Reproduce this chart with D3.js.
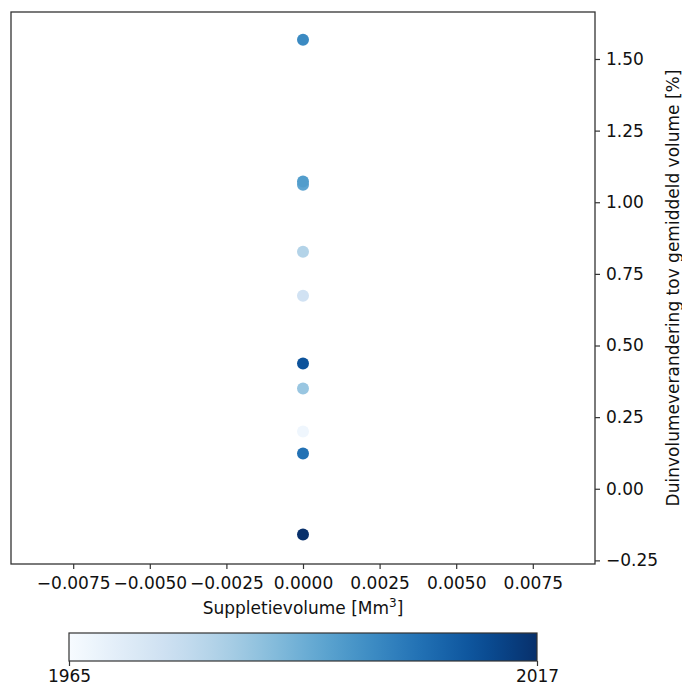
<!DOCTYPE html>
<html>
<head>
<meta charset="utf-8">
<script src="https://cdn.jsdelivr.net/npm/d3@7"></script>
<style>
  body { margin: 0; background: #fff; }
  text { font-family: "DejaVu Sans", sans-serif; fill: #111; }
</style>
</head>
<body>
<div id="chart"></div>
<script>
// data
var years   = [1967, 1975, 1981, 1985, 1993, 1995, 1999, 2004, 2010, 2017];
var supplet = [0, 0, 0, 0, 0, 0, 0, 0, 0, 0];
var duinVol = [0.200, 0.674, 0.827, 0.350, 1.061, 1.072, 1.567, 0.123, 0.437, -0.160];
var yTicks  = [-0.25, 0.00, 0.25, 0.50, 0.75, 1.00, 1.25, 1.50];
var xTicks  = [-0.0075, -0.0050, -0.0025, 0.0000, 0.0025, 0.0050, 0.0075];
var yearRange = [1965, 2017];

var W = 682, H = 688;
var box = {left: 11, right: 595, top: 12, bottom: 564};

var svg = d3.select("#chart")
    .append("svg")
    .attr("width", W)
    .attr("height", H);

var x = d3.scaleLinear()
    .domain([-0.00953, 0.00953])
    .range([box.left, box.right]);

var y = d3.scaleLinear()
    .domain([-0.2626, 1.664])
    .range([box.bottom, box.top]);

var color = d3.scaleSequential(d3.interpolateBlues)
    .domain(yearRange);

// X axis
var xAxis = svg.append("g")
    .attr("transform", "translate(0," + box.bottom + ")")
    .call(d3.axisBottom(x).tickValues(xTicks).tickSize(5).tickPadding(8)
        .tickFormat(d3.format(".4f")));
xAxis.select(".domain").remove();
xAxis.selectAll("text").style("font-size", "17px");
xAxis.selectAll("line").attr("stroke", "#333").attr("stroke-width", 1.2);

// Y axis on the right
var yAxis = svg.append("g")
    .attr("transform", "translate(" + box.right + ",0)")
    .call(d3.axisRight(y).tickValues(yTicks).tickSize(5).tickPadding(6)
        .tickFormat(d3.format(".2f")));
yAxis.select(".domain").remove();
yAxis.selectAll("text").style("font-size", "17px");
yAxis.selectAll("line").attr("stroke", "#333").attr("stroke-width", 1.2);

// frame
svg.append("rect")
    .attr("x", box.left)
    .attr("y", box.top)
    .attr("width", box.right - box.left)
    .attr("height", box.bottom - box.top)
    .attr("fill", "none")
    .attr("stroke", "#333")
    .attr("stroke-width", 1.3);

// points
svg.append("g")
    .selectAll("circle")
    .data(years)
    .enter().append("circle")
    .attr("cx", function(d, i) { return x(supplet[i]); })
    .attr("cy", function(d, i) { return y(duinVol[i]); })
    .attr("r", 6)
    .attr("fill", function(d) { return color(d); });

// axis labels
var xl = svg.append("text")
    .attr("x", (box.left + box.right) / 2)
    .attr("y", 614)
    .attr("text-anchor", "middle")
    .style("font-size", "17px")
    .text("Suppletievolume [Mm");
xl.append("tspan").attr("dy", -7).style("font-size", "12px").text("3");
xl.append("tspan").attr("dy", 7).text("]");

svg.append("text")
    .attr("transform", "translate(679," + ((box.top + box.bottom) / 2) + ") rotate(-90)")
    .attr("text-anchor", "middle")
    .style("font-size", "17px")
    .text("Duinvolumeverandering tov gemiddeld volume [%]");

// colorbar
var cb = {left: 69, right: 537, top: 633, bottom: 661};
var grad = svg.append("defs").append("linearGradient")
    .attr("id", "cbgrad");
d3.range(0, 1.0001, 0.05).forEach(function(t) {
    grad.append("stop")
        .attr("offset", t)
        .attr("stop-color", d3.interpolateBlues(t));
});
svg.append("rect")
    .attr("x", cb.left)
    .attr("y", cb.top)
    .attr("width", cb.right - cb.left)
    .attr("height", cb.bottom - cb.top)
    .attr("fill", "url(#cbgrad)")
    .attr("stroke", "#333")
    .attr("stroke-width", 1.2);

var cx = d3.scaleLinear().domain(yearRange).range([cb.left, cb.right]);
var cAxis = svg.append("g")
    .attr("transform", "translate(0," + cb.bottom + ")")
    .call(d3.axisBottom(cx).tickValues(yearRange).tickSize(5).tickPadding(4)
        .tickFormat(d3.format("d")));
cAxis.select(".domain").remove();
cAxis.selectAll("text").style("font-size", "17px");
cAxis.selectAll("line").attr("stroke", "#333").attr("stroke-width", 1.2);
</script>
</body>
</html>
